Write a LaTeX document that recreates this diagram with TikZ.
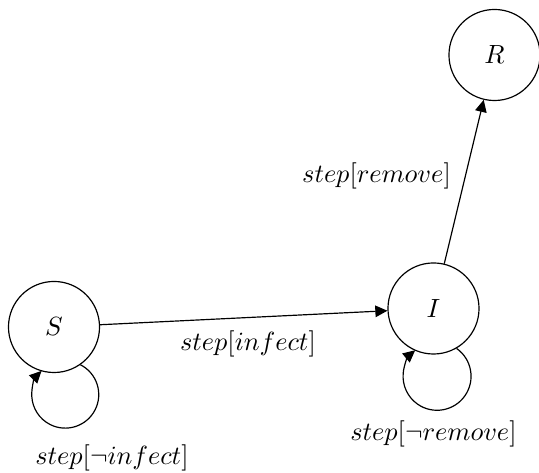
\documentclass[tikz,border=0pt]{standalone}
\usetikzlibrary{arrows.meta}
\begin{document}
\begin{tikzpicture}[x=0.38pt,y=0.38pt,
  state/.style={draw,circle,minimum size=34.6pt,inner sep=0pt,line width=0.45pt},
  arr/.style={-{Triangle[length=4.6pt,width=4.4pt]},line width=0.45pt},
  lbl/.style={inner sep=0pt}]
\useasboundingbox (0,0) rectangle (539,473);
\node[state] (S) at (54,146) {$S$};
\node[state] (I) at (433.5,164.5) {$I$};
\node[state] (R) at (494.5,418) {$R$};
\draw[arr] (S) -- (I);
\draw[arr] (I) -- (R);
\draw[arr] (S.-55) arc[start angle=63,end angle=-225,radius=33.5];
\draw[arr] (I.-60) arc[start angle=55,end angle=-230,radius=34];
\node[lbl] (l1) at (248,129) {$step[infect]$};
\node[lbl] (l2) at (112,15) {$step[\neg infect]$};
\node[lbl] (l3) at (433.5,39) {$step[\neg remove]$};
\node[lbl] (l4) at (376.5,297) {$step[remove]$};
\end{tikzpicture}
\end{document}
